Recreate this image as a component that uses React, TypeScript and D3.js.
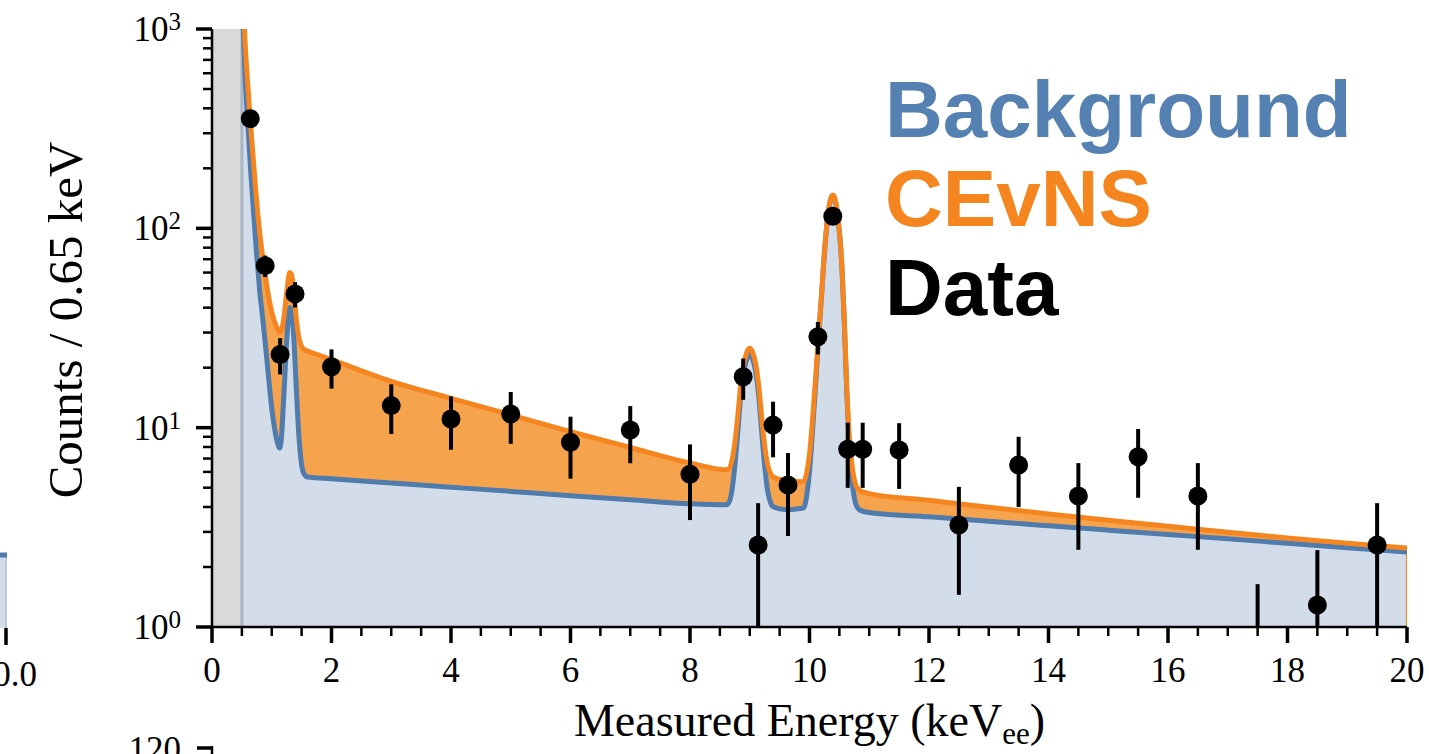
import { useEffect, useRef } from "react";
import * as d3 from "d3";

// model curves, sampled in keV
const energy = [
  0.5, 0.55, 0.6, 0.65, 0.7, 0.75, 0.8, 0.85, 0.9, 0.95,
  1.0, 1.05, 1.1, 1.13, 1.16, 1.2, 1.25, 1.3, 1.33, 1.37,
  1.41, 1.45, 1.5, 1.55, 1.6, 2.0, 3.0, 4.0, 5.0, 6.0,
  7.0, 8.0, 8.6, 8.65, 8.7, 8.75, 8.8, 8.85, 8.9, 8.95,
  9.0, 9.05, 9.1, 9.15, 9.2, 9.25, 9.3, 9.35, 9.4, 9.6,
  9.9, 9.95, 10.0, 10.06, 10.1, 10.15, 10.2, 10.25, 10.3, 10.35,
  10.39, 10.43, 10.48, 10.54, 10.58, 10.62, 10.66, 10.71, 10.78, 10.85,
  11, 12, 13, 14, 15, 16, 17, 18, 19, 20,
];
const background = [
  1600, 620, 330, 190, 115, 72, 48, 35, 25, 17.5,
  12.5, 9.8, 8.3, 7.9, 8.8, 14, 27, 40, 39, 28,
  16, 9.5, 6.5, 5.8, 5.65, 5.54, 5.28, 5.03, 4.79, 4.56,
  4.35, 4.15, 4.1, 4.2, 4.8, 6.4, 9.5, 14.5, 19, 22,
  23.2, 22, 19, 14.5, 9.5, 6.4, 4.8, 4.2, 4.0, 3.88,
  3.95, 4.5, 6, 10.6, 16, 27.4, 45, 75, 110, 138,
  146, 138, 110, 65.6, 35, 16.1, 8.5, 5.5, 4.1, 3.85,
  3.75, 3.57, 3.39, 3.22, 3.06, 2.91, 2.77, 2.63, 2.5, 2.38,
];
const cevns = [
  400, 280, 190, 130, 90, 62, 46, 36, 30.5, 27.5,
  25.5, 24, 22.8, 22.2, 21.8, 21.0, 20.4, 20.0, 19.8, 19.6,
  19.4, 19.2, 19.0, 18.8, 18.6, 16.4, 11.8, 9.0, 6.8, 5.0,
  3.6, 2.5, 2.05, 2.02, 2.0, 1.97, 1.95, 1.92, 1.9, 1.87,
  1.85, 1.82, 1.8, 1.77, 1.75, 1.72, 1.7, 1.67, 1.65, 1.55,
  1.4, 1.38, 1.35, 1.32, 1.3, 1.28, 1.26, 1.24, 1.22, 1.2,
  1.18, 1.16, 1.14, 1.11, 1.09, 1.07, 1.05, 1.03, 1.0, 0.97,
  0.92, 0.75, 0.6, 0.47, 0.37, 0.29, 0.22, 0.17, 0.13, 0.11,
];

// measured points
const dataEnergy = [
  0.64, 0.89, 1.14, 1.39, 2, 3, 4, 5, 6, 7, 8, 8.89, 9.14, 9.39,
  9.64, 10.14, 10.39, 10.64, 10.89, 11.5, 12.5, 13.5, 14.5, 15.5, 16.5, 17.5, 18.5, 19.5,
];
const dataCounts = [
  355, 65, 23.3, 46.9, 20.2, 12.9, 11.05, 11.7, 8.45, 9.73, 5.84, 18.0, 2.58, 10.3,
  5.16, 28.6, 115, 7.79, 7.79, 7.73, 3.25, 6.5, 4.54, 7.15, 4.54, 0, 1.29, 2.58,
];
const dataError = [
  18.8, 8.0, 4.8, 6.8, 4.5, 3.6, 3.3, 3.4, 2.9, 3.1, 2.4, 4.2, 1.6, 3.2,
  2.3, 5.3, 10.7, 2.8, 2.8, 2.8, 1.8, 2.5, 2.1, 2.7, 2.1, 1.64, 1.14, 1.6,
];

const xTickValues = [0, 2, 4, 6, 8, 10, 12, 14, 16, 18, 20];
const yTickValues = [1, 10, 100, 1000];
const yTickExponents = ["0", "1", "2", "3"];
const legendLabels = ["Background", "CEvNS", "Data"];

const W = 1429,
  H = 754,
  left = 212,
  right = 1407,
  top = 29,
  bottom = 627,
  blue = "#4f7bad",
  orange = "#f5851f",
  serif = "'Liberation Serif', serif",
  sans = "'Liberation Sans', Arial, sans-serif";

export default function App() {
  const ref = useRef<SVGSVGElement>(null);

  useEffect(() => {
    const svg = d3.select(ref.current);
    svg.selectAll("*").remove();

    const x = d3.scaleLinear().domain([0, 20]).range([left, right]);
    const y = d3.scaleLog().domain([1, 1000]).range([bottom, top]);

    svg
      .append("defs")
      .append("clipPath")
      .attr("id", "plot-clip")
      .append("rect")
      .attr("x", left)
      .attr("y", top)
      .attr("width", right - left)
      .attr("height", bottom - top);

    // fragments of the neighbouring panels
    svg.append("rect").attr("x", 0).attr("y", 555).attr("width", 6).attr("height", 73).attr("fill", "#d3dde9");
    svg.append("line").attr("x1", 6).attr("x2", 6).attr("y1", 555).attr("y2", 628).attr("stroke", "#a9bdd5").attr("stroke-width", 1.5);
    svg.append("line").attr("x1", 0).attr("x2", 7).attr("y1", 555).attr("y2", 555).attr("stroke", blue).attr("stroke-width", 5);
    svg.append("line").attr("x1", 6).attr("x2", 6).attr("y1", 628).attr("y2", 645).attr("stroke", "#000").attr("stroke-width", 3.5);
    svg.append("text").attr("x", 37).attr("y", 686).attr("text-anchor", "end")
      .attr("font-family", serif).attr("font-size", 35).text("20.0");
    svg.append("text").attr("x", 181).attr("y", 761).attr("text-anchor", "end")
      .attr("font-family", serif).attr("font-size", 35).text("120");
    svg.append("line").attr("x1", 197).attr("x2", 213).attr("y1", 748).attr("y2", 748).attr("stroke", "#000").attr("stroke-width", 3.5);
    svg.append("line").attr("x1", 212).attr("x2", 212).attr("y1", 746).attr("y2", 754).attr("stroke", "#000").attr("stroke-width", 2.5);

    const plot = svg.append("g").attr("clip-path", "url(#plot-clip)");

    // threshold region
    plot
      .append("rect")
      .attr("x", x(0))
      .attr("y", top)
      .attr("width", x(0.5) - x(0))
      .attr("height", bottom - top)
      .attr("fill", "#d9d9d9");

    const rows = energy.map((e, i) => ({ energy: e, background: background[i], cevns: cevns[i] }));
    const layers = d3.stack<any>().keys(["background", "cevns"])(rows);

    const area = d3
      .area<any>()
      .x((d) => x(d.data.energy))
      .y0((d) => y(Math.max(d[0], 1)))
      .y1((d) => y(d[1]))
      .curve(d3.curveMonotoneX);
    const line = d3
      .line<any>()
      .x((d) => x(d.data.energy))
      .y((d) => y(d[1]))
      .curve(d3.curveMonotoneX);

    plot.append("path").attr("d", area(layers[0])).attr("fill", "#d3dde9");
    plot.append("path").attr("d", area(layers[1])).attr("fill", "#f6a34e");
    plot
      .append("line")
      .attr("x1", x(0.5))
      .attr("x2", x(0.5))
      .attr("y1", top)
      .attr("y2", bottom)
      .attr("stroke", "#a8b5c5")
      .attr("stroke-width", 3);
    const last = layers[1][layers[1].length - 1];
    plot
      .append("line")
      .attr("x1", x(20) - 0.5)
      .attr("x2", x(20) - 0.5)
      .attr("y1", y(last[1]))
      .attr("y2", bottom)
      .attr("stroke", orange)
      .attr("stroke-width", 1.2);
    plot
      .append("path")
      .attr("d", line(layers[0]))
      .attr("fill", "none")
      .attr("stroke", blue)
      .attr("stroke-width", 5)
      .attr("stroke-linejoin", "round");
    plot
      .append("path")
      .attr("d", line(layers[1]))
      .attr("fill", "none")
      .attr("stroke", orange)
      .attr("stroke-width", 5)
      .attr("stroke-linejoin", "round");

    // data with error bars
    const pts = dataEnergy.map((e, i) => ({ e, v: dataCounts[i], err: dataError[i] }));
    plot
      .selectAll(".err")
      .data(pts)
      .enter()
      .append("line")
      .attr("x1", (d) => x(d.e))
      .attr("x2", (d) => x(d.e))
      .attr("y1", (d) => y(Math.max(d.v - d.err, 1)))
      .attr("y2", (d) => y(d.v + d.err))
      .attr("stroke", "#000")
      .attr("stroke-width", 4);
    plot
      .selectAll(".pt")
      .data(pts.filter((d) => d.v > 0))
      .enter()
      .append("circle")
      .attr("cx", (d) => x(d.e))
      .attr("cy", (d) => y(d.v))
      .attr("r", 9.5)
      .attr("fill", "#000");

    // axes
    const ax = svg.append("g");
    ax.append("line").attr("x1", left).attr("x2", left).attr("y1", top).attr("y2", bottom + 1.2)
      .attr("stroke", "#000").attr("stroke-width", 2.5);
    ax.append("line").attr("x1", left - 1.2).attr("x2", right).attr("y1", bottom).attr("y2", bottom)
      .attr("stroke", "#000").attr("stroke-width", 2.5);

    const xMinor = d3.range(0, 20.01, 0.5).filter((v) => v % 2 !== 0);
    ax.selectAll(".xminor")
      .data(xMinor)
      .enter()
      .append("line")
      .attr("x1", (d) => x(d))
      .attr("x2", (d) => x(d))
      .attr("y1", bottom)
      .attr("y2", bottom + 9)
      .attr("stroke", "#000")
      .attr("stroke-width", 2.5);
    ax.selectAll(".xmajor")
      .data(xTickValues)
      .enter()
      .append("line")
      .attr("x1", (d) => x(d))
      .attr("x2", (d) => x(d))
      .attr("y1", bottom)
      .attr("y2", bottom + 16)
      .attr("stroke", "#000")
      .attr("stroke-width", 3.5);
    ax.selectAll(".xlabel")
      .data(xTickValues)
      .enter()
      .append("text")
      .attr("x", (d) => x(d))
      .attr("y", 682)
      .attr("text-anchor", "middle")
      .attr("font-family", serif)
      .attr("font-size", 35)
      .text((d) => d);

    const yMinor = [1, 10, 100].flatMap((p) => d3.range(2, 10).map((k) => k * p));
    ax.selectAll(".yminor")
      .data(yMinor)
      .enter()
      .append("line")
      .attr("x1", left - 9)
      .attr("x2", left)
      .attr("y1", (d) => y(d))
      .attr("y2", (d) => y(d))
      .attr("stroke", "#000")
      .attr("stroke-width", 2.5);
    ax.selectAll(".ymajor")
      .data(yTickValues)
      .enter()
      .append("line")
      .attr("x1", left - 16)
      .attr("x2", left)
      .attr("y1", (d) => y(d))
      .attr("y2", (d) => y(d))
      .attr("stroke", "#000")
      .attr("stroke-width", 3.5);
    const yl = ax
      .selectAll(".ylabel")
      .data(yTickValues)
      .enter()
      .append("text")
      .attr("x", 181)
      .attr("y", (d) => y(d) + 12)
      .attr("text-anchor", "end")
      .attr("font-family", serif)
      .attr("font-size", 35);
    yl.append("tspan").text("10");
    yl.append("tspan")
      .attr("dy", -11)
      .attr("font-size", 25)
      .text((d, i) => yTickExponents[i]);

    const xl = svg
      .append("text")
      .attr("x", (left + right) / 2)
      .attr("y", 736)
      .attr("text-anchor", "middle")
      .attr("font-family", serif)
      .attr("font-size", 46);
    xl.append("tspan").text("Measured Energy (keV");
    xl.append("tspan").attr("dy", 8).attr("font-size", 31).text("ee");
    xl.append("tspan").attr("dy", -8).text(")");

    svg
      .append("text")
      .attr("transform", "translate(82,320) rotate(-90)")
      .attr("text-anchor", "middle")
      .attr("font-family", serif)
      .attr("font-size", 49)
      .text("Counts / 0.65 keV");

    // legend as coloured words
    const legendColors = ["#5580b2", orange, "#000"];
    svg
      .selectAll(".legend")
      .data(legendLabels)
      .enter()
      .append("text")
      .attr("x", 885)
      .attr("y", (d, i) => 137 + i * 89)
      .attr("font-family", sans)
      .attr("font-weight", "bold")
      .attr("font-size", 80)
      .attr("fill", (d, i) => legendColors[i])
      .text((d) => d);
  }, []);

  return (
    <svg
      ref={ref}
      width={W}
      height={H}
      style={{ position: "absolute", left: 0, top: 0, background: "#fff" }}
    />
  );
}
